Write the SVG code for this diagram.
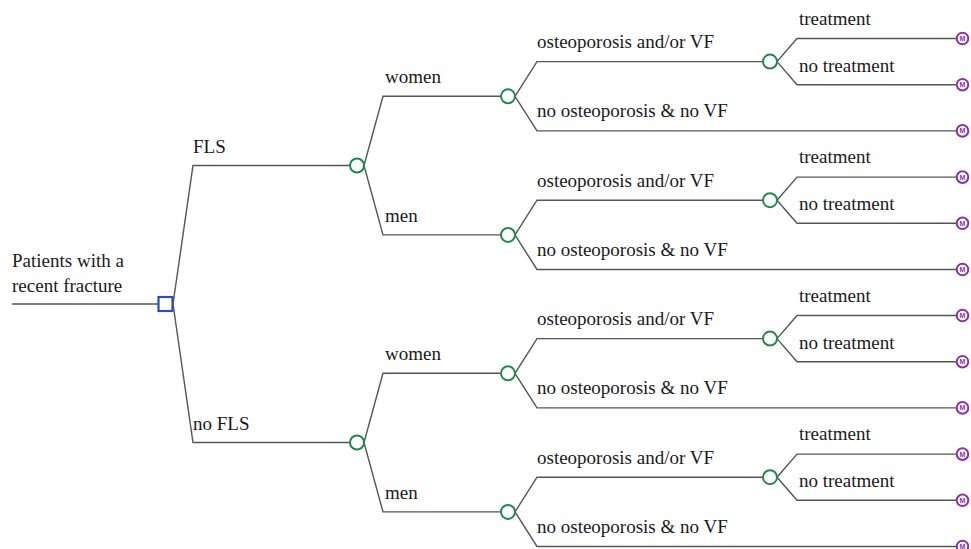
<svg xmlns="http://www.w3.org/2000/svg" width="971" height="549" viewBox="0 0 971 549">
<style>
.e{fill:none;stroke:#555;stroke-width:1.4}
.c{fill:#fff;stroke:#1f8a4c;stroke-width:2}
.d{fill:#fff;stroke:#2b50b5;stroke-width:2.2}
.t{fill:#fff;stroke:#8b30b0;stroke-width:2}
.m{font-family:"Liberation Sans",Arial,sans-serif;font-size:7px;font-weight:bold;fill:#8b30b0;text-anchor:middle}
.l{font-family:"Liberation Serif","Times New Roman",serif;font-size:19px;fill:#1a1a1a}
</style>
<rect width="971" height="549" fill="#fff"/>
<g id="connectors">
<path class="e" d="M12 304H158"/>
<path class="e" d="M173 304L193 165.5H350M173 304L193 442.5H350"/>
<path class="e" d="M364 165.5L383 96.3H501M364 165.5L383 234.9H501"/>
<path class="e" d="M364 442.5L383 373.3H501M364 442.5L383 511.9H501"/>
<path class="e" d="M515 96.3L537 61.6H763M515 96.3L537 130.9H956"/>
<path class="e" d="M515 234.9L537 200.2H763M515 234.9L537 269.5H956"/>
<path class="e" d="M515 373.3L537 338.6H763M515 373.3L537 407.9H956"/>
<path class="e" d="M515 511.9L537 477.2H763M515 511.9L537 546.5H956"/>
<path class="e" d="M777 61.6L797 38.5H956M777 61.6L797 84.7H956"/>
<path class="e" d="M777 200.2L797 177.1H956M777 200.2L797 223.3H956"/>
<path class="e" d="M777 338.6L797 315.5H956M777 338.6L797 361.7H956"/>
<path class="e" d="M777 477.2L797 454.1H956M777 477.2L797 500.3H956"/>
</g>
<g id="labels">
<text class="l" x="12" y="267">Patients with a</text>
<text class="l" x="12" y="291.5">recent fracture</text>
<text class="l" x="193" y="152.5">FLS</text>
<text class="l" x="193" y="429.5">no FLS</text>
<text class="l" x="385" y="83">women</text>
<text class="l" x="385" y="221.5">men</text>
<text class="l" x="385" y="360">women</text>
<text class="l" x="385" y="498.5">men</text>
<text class="l" x="537" y="48.3">osteoporosis and/or VF</text>
<text class="l" x="537" y="117.2">no osteoporosis &amp; no VF</text>
<text class="l" x="537" y="186.9">osteoporosis and/or VF</text>
<text class="l" x="537" y="255.8">no osteoporosis &amp; no VF</text>
<text class="l" x="537" y="325.3">osteoporosis and/or VF</text>
<text class="l" x="537" y="394.2">no osteoporosis &amp; no VF</text>
<text class="l" x="537" y="463.9">osteoporosis and/or VF</text>
<text class="l" x="537" y="532.8">no osteoporosis &amp; no VF</text>
<text class="l" x="799" y="24.5">treatment</text>
<text class="l" x="799" y="71.5">no treatment</text>
<text class="l" x="799" y="163.1">treatment</text>
<text class="l" x="799" y="210.1">no treatment</text>
<text class="l" x="799" y="301.5">treatment</text>
<text class="l" x="799" y="348.5">no treatment</text>
<text class="l" x="799" y="440.1">treatment</text>
<text class="l" x="799" y="487.1">no treatment</text>
</g>
<g id="root"><rect class="d" x="158.5" y="297" width="14" height="14"/></g>
<g id="chance-fls"><circle class="c" cx="357" cy="165.5" r="7"/></g>
<g id="chance-nofls"><circle class="c" cx="357" cy="442.5" r="7"/></g>
<g id="chance-fls-women"><circle class="c" cx="508" cy="96.3" r="7"/></g>
<g id="chance-fls-men"><circle class="c" cx="508" cy="234.9" r="7"/></g>
<g id="chance-nofls-women"><circle class="c" cx="508" cy="373.3" r="7"/></g>
<g id="chance-nofls-men"><circle class="c" cx="508" cy="511.9" r="7"/></g>
<g id="chance-fls-women-osteo"><circle class="c" cx="770" cy="61.6" r="7"/></g>
<g id="chance-fls-men-osteo"><circle class="c" cx="770" cy="200.2" r="7"/></g>
<g id="chance-nofls-women-osteo"><circle class="c" cx="770" cy="338.6" r="7"/></g>
<g id="chance-nofls-men-osteo"><circle class="c" cx="770" cy="477.2" r="7"/></g>
<g id="term-1"><circle class="t" cx="962.5" cy="38.5" r="5.8"/><text class="m" x="962.5" y="41">M</text></g>
<g id="term-2"><circle class="t" cx="962.5" cy="84.7" r="5.8"/><text class="m" x="962.5" y="87.2">M</text></g>
<g id="term-3"><circle class="t" cx="962.5" cy="130.9" r="5.8"/><text class="m" x="962.5" y="133.4">M</text></g>
<g id="term-4"><circle class="t" cx="962.5" cy="177.1" r="5.8"/><text class="m" x="962.5" y="179.6">M</text></g>
<g id="term-5"><circle class="t" cx="962.5" cy="223.3" r="5.8"/><text class="m" x="962.5" y="225.8">M</text></g>
<g id="term-6"><circle class="t" cx="962.5" cy="269.5" r="5.8"/><text class="m" x="962.5" y="272">M</text></g>
<g id="term-7"><circle class="t" cx="962.5" cy="315.5" r="5.8"/><text class="m" x="962.5" y="318">M</text></g>
<g id="term-8"><circle class="t" cx="962.5" cy="361.7" r="5.8"/><text class="m" x="962.5" y="364.2">M</text></g>
<g id="term-9"><circle class="t" cx="962.5" cy="407.9" r="5.8"/><text class="m" x="962.5" y="410.4">M</text></g>
<g id="term-10"><circle class="t" cx="962.5" cy="454.1" r="5.8"/><text class="m" x="962.5" y="456.6">M</text></g>
<g id="term-11"><circle class="t" cx="962.5" cy="500.3" r="5.8"/><text class="m" x="962.5" y="502.8">M</text></g>
<g id="term-12"><circle class="t" cx="962.5" cy="546.5" r="5.8"/><text class="m" x="962.5" y="549">M</text></g>
</svg>
